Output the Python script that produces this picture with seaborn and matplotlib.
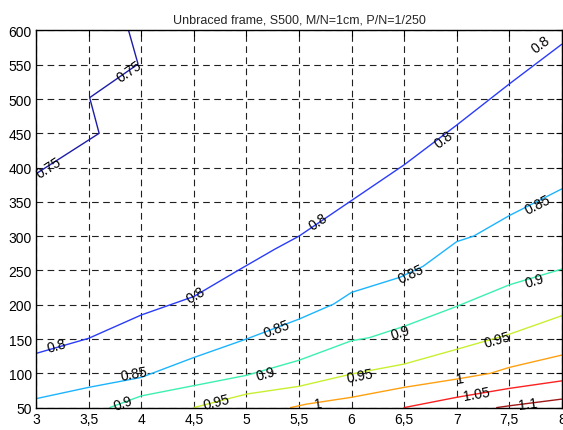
import numpy as np
import pandas as pd
import matplotlib
matplotlib.use("Agg")
import matplotlib.pyplot as plt
import seaborn as sns

title = "Unbraced frame, S500, M/N=1cm, P/N=1/250"

# contour polylines (x, y) per level
c075_x = [3.0, 3.60, 3.51, 3.97, 3.88]
c075_y = [391, 450, 502, 551, 600]
c080_x = [3.0, 3.5, 4.0, 4.5, 4.92, 5.27, 5.5, 6.0, 6.5, 7.0, 7.5, 8.0]
c080_y = [129, 151, 185, 212, 250, 281, 300, 352, 404, 462, 522, 580]
c085_x = [3.0, 3.5, 4.0, 4.5, 5.0, 5.5, 5.83, 6.0, 6.46, 6.68, 7.0, 7.16, 7.5, 8.0]
c085_y = [63, 79.5, 94, 123, 150, 179, 201, 218, 240, 256, 292, 300, 330, 369]
c090_x = [3.70, 4.0, 4.5, 5.0, 5.5, 6.0, 6.17, 6.5, 7.0, 7.5, 8.0]
c090_y = [50, 67, 82, 97, 119, 147.5, 152, 168.5, 197.6, 229, 252]
c095_x = [4.5, 5.0, 5.5, 6.0, 6.5, 7.0, 7.5, 8.0]
c095_y = [50, 69.7, 81, 99, 113.5, 135, 157, 184]
c100_x = [5.42, 5.57, 6.0, 6.5, 7.0, 7.32, 7.5, 8.0]
c100_y = [50, 55, 65, 79.5, 91.6, 100, 108.6, 126.6]
c105_x = [6.5, 7.0, 7.5, 8.0]
c105_y = [50, 65, 78, 89]
c110_x = [7.38, 7.5, 8.0]
c110_y = [50, 52.6, 62.4]

levels = [0.75, 0.80, 0.85, 0.90, 0.95, 1.00, 1.05, 1.10]
level_text = ["0.75", "0.8", "0.85", "0.9", "0.95", "1", "1.05", "1.1"]
colors = ["#1c1ca8", "#2a3cf8", "#1cb4ff", "#3cf0b0", "#c8f030", "#ffa010", "#ff2020", "#a01818"]
lines_x = [c075_x, c080_x, c085_x, c090_x, c095_x, c100_x, c105_x, c110_x]
lines_y = [c075_y, c080_y, c085_y, c090_y, c095_y, c100_y, c105_y, c110_y]

# label positions (data) and which level they belong to
label_level = [0, 0, 1, 1, 1, 1, 1, 2, 2, 2, 2, 3, 3, 3, 3, 4, 4, 4, 5, 5, 6, 7]
label_x = [3.12, 3.89, 3.20, 4.52, 5.68, 6.88, 7.80, 3.93, 5.29, 6.57, 7.77,
           3.83, 5.18, 6.46, 7.74, 4.72, 6.08, 7.39, 5.68, 7.03, 7.19, 7.68]
label_y = [400, 541, 140, 214, 322, 442, 580, 100, 166, 245, 347,
           57, 100, 160, 235, 58, 96, 149, 56, 92, 70, 55]

xticks = [3, 3.5, 4, 4.5, 5, 5.5, 6, 6.5, 7, 7.5, 8]
xtick_labels = ["3", "3,5", "4", "4,5", "5", "5,5", "6", "6,5", "7", "7,5", "8"]
yticks = [50, 100, 150, 200, 250, 300, 350, 400, 450, 500, 550, 600]

sns.set_style("white")
plt.rcParams["font.family"] = ["Liberation Sans", "DejaVu Sans"]

fig = plt.figure(figsize=(5.63, 4.31), dpi=100)
ax = fig.add_axes([0.064, 0.052, 0.934, 0.875])
ax.set_xlim(3, 8)
ax.set_ylim(50, 600)

for lx, ly, c, lev in zip(lines_x, lines_y, colors, levels):
    df = pd.DataFrame({"x": lx, "y": ly})
    sns.lineplot(data=df, x="x", y="y", sort=False, estimator=None,
                 color=c, linewidth=1.0, ax=ax)

ax.set_xticks(xticks)
ax.set_xticklabels(xtick_labels)
ax.set_yticks(yticks)
ax.set_xlabel("")
ax.set_ylabel("")
ax.grid(True, color="#202020", linestyle=(0, (6, 4)), linewidth=0.8)
ax.set_axisbelow(True)
for s in ax.spines.values():
    s.set_color("black")
    s.set_linewidth(1.0)
ax.tick_params(direction="in", length=4, labelsize=10, colors="black", pad=3,
               top=True, right=True)
ax.set_title(title, fontsize=9, pad=6)

fig.canvas.draw()
for li, tx, ty in zip(label_level, label_x, label_y):
    lx = np.array(lines_x[li]); ly = np.array(lines_y[li])
    pts = ax.transData.transform(np.column_stack([lx, ly]))
    p = ax.transData.transform((tx, ty))
    best = 0; bd = 1e9
    for i in range(len(pts) - 1):
        mid = (pts[i] + pts[i + 1]) / 2
        dd = np.hypot(*(mid - p))
        if dd < bd:
            bd = dd; best = i
    dx, dy = pts[best + 1] - pts[best]
    ang = np.degrees(np.arctan2(dy, dx))
    if ang > 90:
        ang -= 180
    if ang < -90:
        ang += 180
    ax.text(tx, ty, level_text[li], rotation=ang, rotation_mode="anchor",
            ha="center", va="center", fontsize=10, color="black",
            clip_on=False, zorder=5)

fig.savefig("out.png", dpi=100)
